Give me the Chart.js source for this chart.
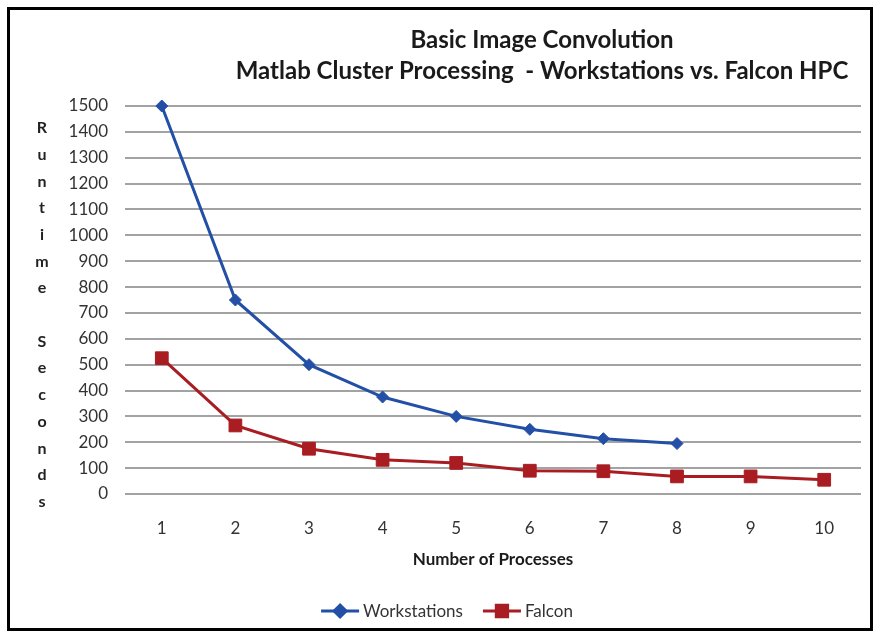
<!DOCTYPE html>
<html>
<head>
<meta charset="utf-8">
<script src="https://cdn.jsdelivr.net/npm/chart.js@4.4.1/dist/chart.umd.min.js"></script>
<style>
    html, body { margin: 0; padding: 0; background: #ffffff; }
    #grafico { display: block; }
</style>
</head>
<body>
<canvas id="grafico" width="874" height="631"></canvas>
<script>
const processos = ["1", "2", "3", "4", "5", "6", "7", "8", "9", "10"];
const workstations = [1500, 750, 500, 375, 300, 250, 214, 195];
const falcon = [525, 265, 175, 132, 120, 90, 88, 68, 68, 55];
const ticksRuntime = [0, 100, 200, 300, 400, 500, 600, 700, 800, 900, 1000, 1100, 1200, 1300, 1400, 1500];

const titulo = ["Basic Image Convolution", "Matlab Cluster Processing  - Workstations vs. Falcon HPC"];
const tituloEixoY = "Runtime Seconds";
const tituloEixoX = "Number of Processes";

const AZUL = "#2350a6";
const VERMELHO = "#a91d22";

// moldura, titulo e eixo Y em letras empilhadas
const molduraPlugin = {
    id: "moldura",
    afterDraw(chart) {
        const { ctx } = chart;
        ctx.save();

        ctx.strokeStyle = "#000000";
        ctx.lineWidth = 3;
        ctx.strokeRect(8.5, 8.5, 863, 621);

        ctx.fillStyle = "#1a1a1a";
        ctx.textAlign = "center";
        ctx.textBaseline = "middle";
        ctx.font = "bold 24px Lato, sans-serif";
        ctx.fillText(titulo[0], 542, 40);
        ctx.fillText(titulo[1], 542, 71);

        ctx.font = "bold 16px Lato, sans-serif";
        ctx.fillStyle = "#222222";
        tituloEixoY.split("").forEach((letra, i) => {
            ctx.fillText(letra, 42, 128 + i * 26.7);
        });

        ctx.restore();
    }
};

// legenda com linha e marcador
const legendaPlugin = {
    id: "legendaLinha",
    afterDraw(chart) {
        const { ctx } = chart;
        const y = 611;
        const linha = 38;
        const gap = 4;
        const entreItens = 20;

        ctx.save();
        ctx.font = "17px Lato, sans-serif";
        ctx.textBaseline = "middle";

        const larguras = chart.data.datasets.map(ds => linha + gap + ctx.measureText(ds.label).width);
        const total = larguras.reduce((a, b) => a + b, 0) + entreItens * (larguras.length - 1);
        let x = 447 - total / 2;

        chart.data.datasets.forEach((ds, i) => {
            ctx.strokeStyle = ds.borderColor;
            ctx.lineWidth = 3;
            ctx.beginPath();
            ctx.moveTo(x, y);
            ctx.lineTo(x + linha, y);
            ctx.stroke();

            ctx.fillStyle = ds.pointBackgroundColor;
            Chart.helpers.drawPoint(ctx, {
                pointStyle: ds.pointStyle,
                radius: ds.pointStyle === "rect" ? 8 : 6,
                borderWidth: 1
            }, x + linha / 2, y);
            ctx.fill();

            ctx.fillStyle = "#333333";
            ctx.textAlign = "left";
            ctx.fillText(ds.label, x + linha + gap, y + 1);
            x += larguras[i] + entreItens;
        });

        ctx.restore();
    }
};

const ctx = document.getElementById("grafico").getContext("2d");

new Chart(ctx, {
    type: "line",
    data: {
        labels: processos,
        datasets: [
            {
                label: "Workstations",
                data: workstations,
                borderColor: AZUL,
                backgroundColor: AZUL,
                pointBackgroundColor: AZUL,
                pointBorderColor: AZUL,
                borderWidth: 3,
                pointStyle: "rectRot",
                pointRadius: 6,
                pointBorderWidth: 1,
                tension: 0,
                clip: false
            },
            {
                label: "Falcon",
                data: falcon,
                borderColor: VERMELHO,
                backgroundColor: VERMELHO,
                pointBackgroundColor: VERMELHO,
                pointBorderColor: VERMELHO,
                borderWidth: 3,
                pointStyle: "rect",
                pointRadius: 9,
                pointBorderWidth: 1,
                tension: 0,
                clip: false
            }
        ]
    },
    plugins: [molduraPlugin, legendaPlugin],
    options: {
        responsive: false,
        animation: false,
        devicePixelRatio: 1,
        layout: {
            padding: { top: 106, right: 13, bottom: 47, left: 0 }
        },
        plugins: {
            legend: { display: false },
            title: { display: false },
            tooltip: { enabled: false }
        },
        scales: {
            x: {
                type: "category",
                offset: true,
                grid: { display: false, drawTicks: false },
                border: { display: false },
                ticks: {
                    color: "#333333",
                    padding: 24,
                    maxRotation: 0,
                    font: { family: "Lato, sans-serif", size: 17 }
                },
                title: {
                    display: true,
                    text: tituloEixoX,
                    color: "#1a1a1a",
                    padding: { top: 0, bottom: 14 },
                    font: { family: "Lato, sans-serif", size: 17, weight: "bold" }
                },
                afterFit(scale) {
                    scale.height = 90;
                }
            },
            y: {
                min: 0,
                max: 1500,
                grid: {
                    color: "#a3a3a3",
                    lineWidth: 2,
                    drawTicks: false
                },
                border: { display: false },
                ticks: {
                    color: "#333333",
                    padding: 17,
                    font: { family: "Lato, sans-serif", size: 17 },
                    callback: valor => String(valor)
                },
                afterBuildTicks(scale) {
                    scale.ticks = ticksRuntime.map(v => ({ value: v }));
                },
                afterFit(scale) {
                    scale.width = 125;
                }
            }
        }
    }
});
</script>
</body>
</html>
